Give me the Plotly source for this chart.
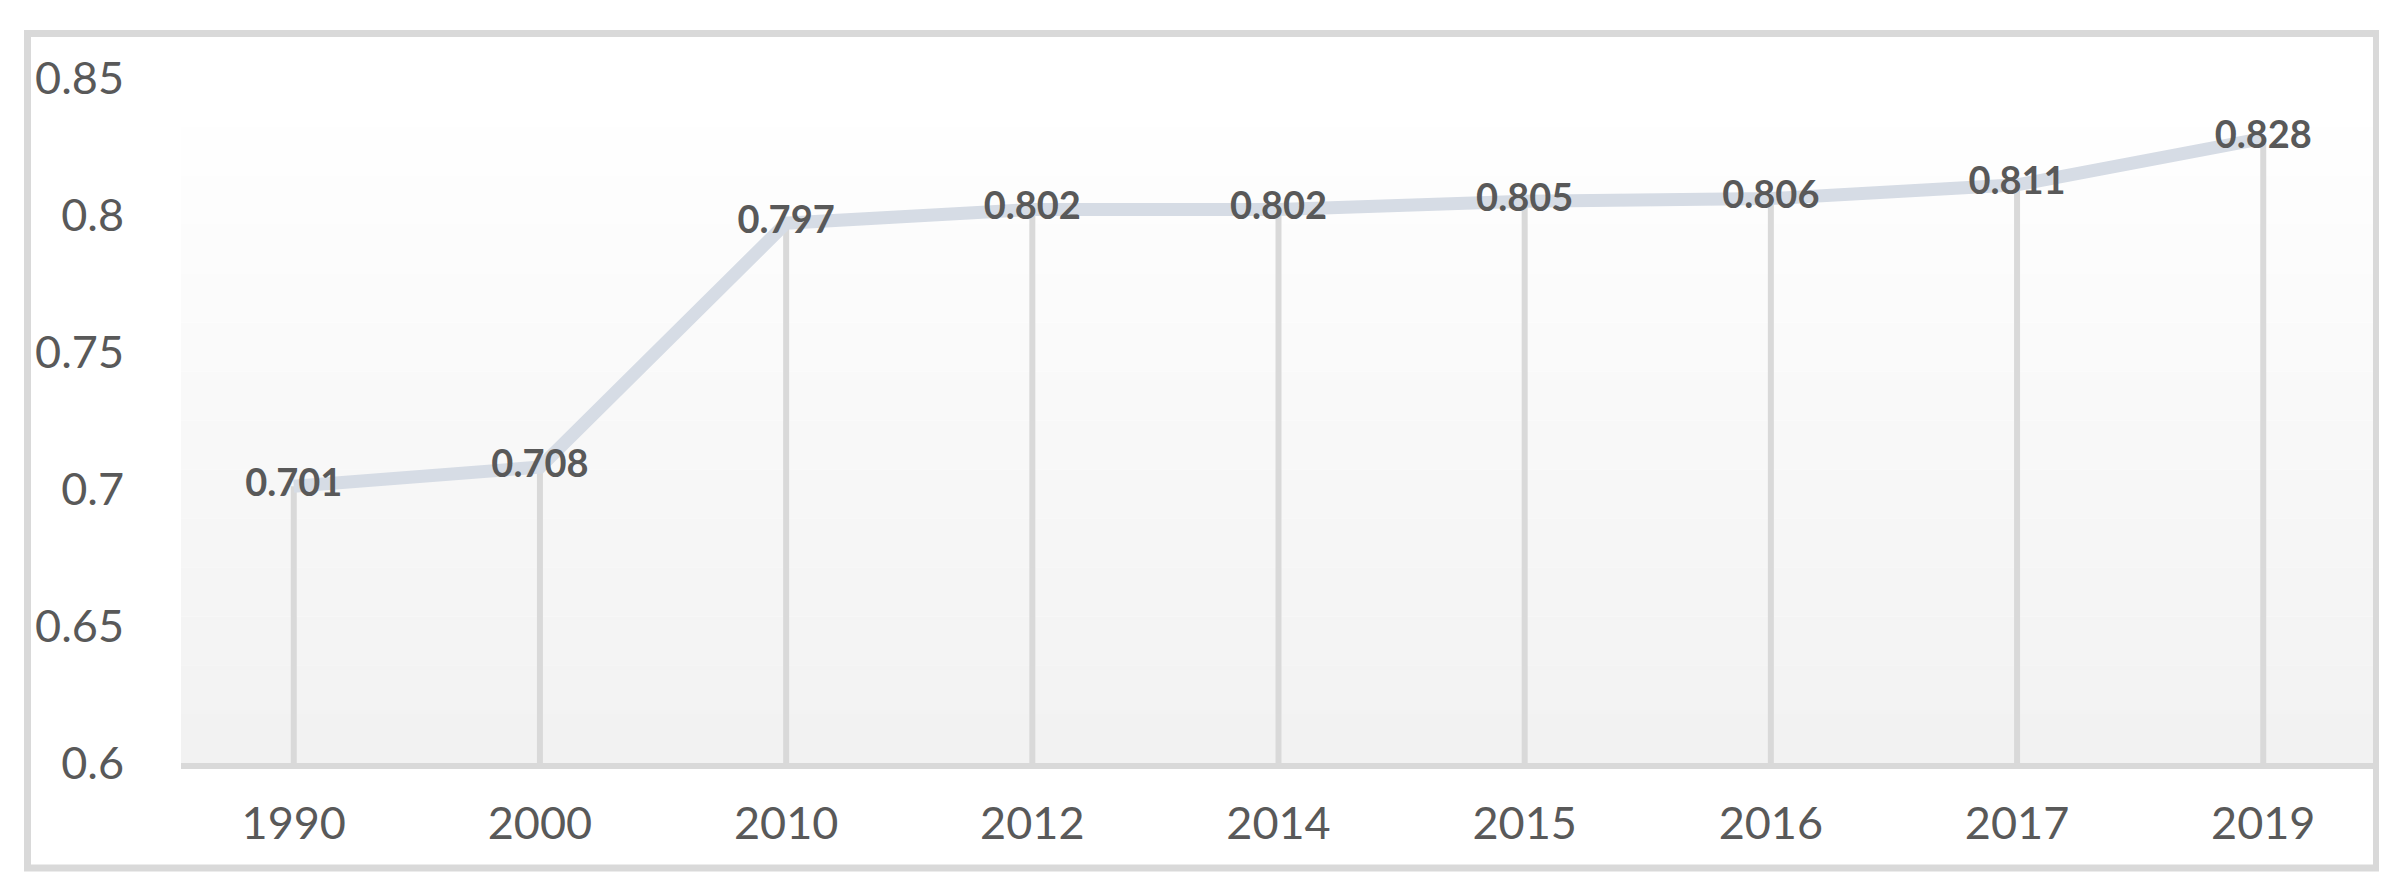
import plotly.graph_objects as go

# values
years = ["1990", "2000", "2010", "2012", "2014", "2015", "2016", "2017", "2019"]
index_values = [0.701, 0.708, 0.797, 0.802, 0.802, 0.805, 0.806, 0.811, 0.828]
y_ticks = [0.6, 0.65, 0.7, 0.75, 0.8, 0.85]
y_tick_labels = ["0.6", "0.65", "0.7", "0.75", "0.8", "0.85"]

Y_MIN, Y_MAX = 0.6, 0.85
W, H = 2387, 888
L, R, T, B = 173, 19, 70, 133
plot_w, plot_h = W - L - R, H - T - B

grey_txt = "#595959"
grid_col = "#d9d9d9"

fig = go.Figure()

# drop lines from each point down to the axis
fig.add_trace(go.Scatter(
    x=years, y=index_values, mode="markers",
    marker=dict(opacity=0, size=1),
    error_y=dict(type="data", symmetric=False,
                 array=[0] * len(index_values),
                 arrayminus=[v - Y_MIN for v in index_values],
                 width=0, thickness=6, color=grid_col),
    hoverinfo="skip", showlegend=False,
))

fig.add_trace(go.Scatter(
    x=years, y=index_values, mode="lines+text",
    line=dict(color="#d6dce5", width=13),
    text=[f"{v:.3f}" for v in index_values],
    textposition="middle center",
    textfont=dict(family="Lato", size=38, color=grey_txt, weight="bold"),
    cliponaxis=False, showlegend=False,
))

# soft vertical gradient in the plot area (white -> #f2f2f2)
steps = 14
shapes = []
for i in range(steps):
    c = round(255 - 13 * (i + 0.5) / steps)
    shapes.append(dict(
        type="rect", xref="x domain", yref="y domain", layer="below",
        x0=0, x1=1, y0=1 - (i + 1) / steps, y1=1 - i / steps,
        fillcolor=f"rgb({c},{c},{c})", line=dict(width=0),
    ))

# outer chart border
def px_x(p):
    return (p - L) / plot_w

def px_y(p):
    return (H - B - p) / plot_h

shapes.append(dict(
    type="rect", xref="paper", yref="paper", layer="above",
    x0=px_x(19.5), x1=px_x(2368.5), y0=px_y(860), y1=px_y(25.5),
    line=dict(color=grid_col, width=7), fillcolor="rgba(0,0,0,0)",
))

fig.update_layout(
    width=W, height=H,
    margin=dict(l=L, r=R, t=T, b=B),
    paper_bgcolor="white", plot_bgcolor="white",
    font=dict(family="Lato", color=grey_txt, size=45),
    shapes=shapes,
    hovermode=False,
)

fig.update_xaxes(
    type="category", showgrid=False, zeroline=False,
    showline=True, linecolor=grid_col, linewidth=6,
    ticks="", ticklabelstandoff=16,
    tickfont=dict(family="Lato", size=45, color=grey_txt),
)
fig.update_yaxes(
    range=[Y_MIN, Y_MAX], showgrid=False, zeroline=False, showline=False,
    tickvals=y_ticks, ticktext=y_tick_labels, ticks="",
    ticklabelstandoff=56,
    tickfont=dict(family="Lato", size=45, color=grey_txt),
)

fig.write_html("out.html")
